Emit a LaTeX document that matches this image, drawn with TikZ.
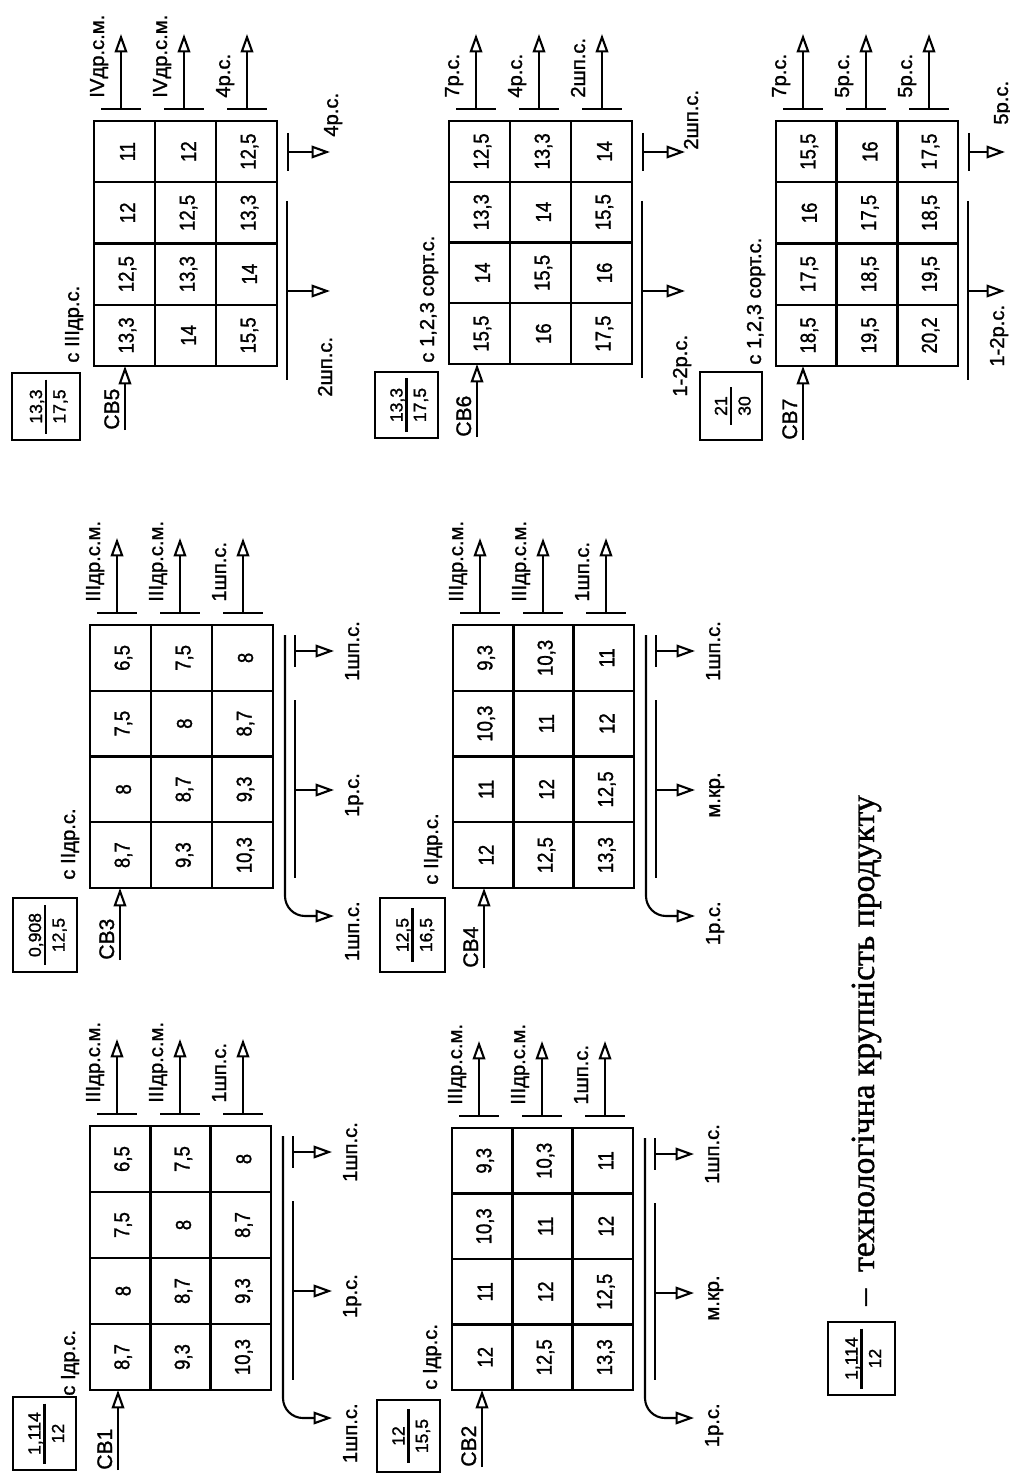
\documentclass[tikz,border=0pt]{standalone}
\usepackage{fontspec}
\usepackage{graphicx}
\setmainfont{Liberation Sans}[FakeBold=1.3]
\newfontfamily\legendfont{Liberation Serif}[FakeBold=1.2]
\usetikzlibrary{arrows.meta}
\newcommand{\dc}{,}
\newcommand{\nar}[1]{\scalebox{0.86}[1]{#1}}
\tikzset{
  ln/.style={line width=1.2pt},
  gridln/.style={line width=1.4pt},
  boxln/.style={line width=1.2pt},
  oarr/.style={line width=1.2pt, -{Triangle[open, length=10.5pt, width=7.2pt]}},
  num/.style={rotate=90, inner sep=0pt, font=\fontsize{12.3}{13}\selectfont},
  lab/.style={rotate=90, inner sep=0pt, font=\fontsize{11.5}{13}\selectfont},
  cbl/.style={rotate=90, inner sep=0pt, font=\fontsize{12}{13}\selectfont},
  frc/.style={rotate=90, inner sep=0pt, font=\fontsize{10}{12}\selectfont},
}
\newcommand{\setblk}[4]{\def\bL{#1}\def\bT{#2}\def\bR{#3}\def\bB{#4}}
\newcommand{\cbgrid}[2]{%
  \draw[gridln] (\bL,\bT) rectangle (\bR,\bB);
  \foreach \t in {1,2}{\draw[gridln] ({\bL+(\bR-\bL)*\t/3},\bT) -- ({\bL+(\bR-\bL)*\t/3},\bB);}
  \foreach \t in {1,2,3}{\draw[gridln] (\bL,{\bT+(\bB-\bT)*\t/4}) -- (\bR,{\bT+(\bB-\bT)*\t/4});}
  \foreach \v [count=\k from 0] in {#2}{%
    \pgfmathsetmacro{\cx}{\bL+(\bR-\bL)*(mod(\k,3)+0.5)/3+3}%
    \pgfmathsetmacro{\cy}{\bT+(\bB-\bT)*(floor(\k/3)+0.5)/4}%
    \node[num] (#1-c\k) at (\cx,\cy) {\nar{\v}};
  }%
}
\newcommand{\topouts}[4]{%
  \foreach \j/\lab in {0/#2,1/#3,2/#4}{%
    \pgfmathsetmacro{\ax}{\bL+27+63*\j}%
    \coordinate (#1-b\j) at (\ax,{\bT-12});
    \coordinate (#1-t\j) at (\ax,{\bT-87});
    \draw[ln] ({\ax-20},{\bT-12}) -- ({\ax+20},{\bT-12});
    \draw[oarr] (#1-b\j) -- (#1-t\j);
    \node[lab, anchor=base west] (#1-l\j) at ({\ax-17},{\bT-23}) {\lab};
  }%
}
\newcommand{\rightA}[4]{%
  \coordinate (#1-ra) at ({\bR+12},{\bT+10});
  \coordinate (#1-rae) at ({\bR+61},{\bB+28});
  \draw[oarr, rounded corners=0.4cm] (#1-ra) |- (#1-rae);
  \draw[ln] ({\bR+22},{\bT+75}) -- ({\bR+22},{\bB-10});
  \coordinate (#1-rb) at ({\bR+22},{\bT+165});
  \coordinate (#1-rbe) at ({\bR+61},{\bT+165});
  \draw[oarr] (#1-rb) -- (#1-rbe);
  \draw[ln] ({\bR+22},{\bT+10}) -- ({\bR+22},{\bT+42});
  \coordinate (#1-rc) at ({\bR+22},{\bT+26});
  \coordinate (#1-rce) at ({\bR+61},{\bT+26});
  \draw[oarr] (#1-rc) -- (#1-rce);
  \node[lab, anchor=base] (#1-rl1) at ({\bR+86},{\bT+26}) {#2};
  \node[lab, anchor=base] (#1-rl2) at ({\bR+86},{\bT+170}) {#3};
  \node[lab, anchor=base east] (#1-rl3) at ({\bR+86},{\bB+13}) {#4};
}
\newcommand{\rightB}[2]{%
  \draw[ln] ({\bR+11},{\bT+12}) -- ({\bR+11},{\bT+50});
  \coordinate (#1-rc) at ({\bR+11},{\bT+31});
  \coordinate (#1-rce) at ({\bR+#2},{\bT+31});
  \draw[oarr] (#1-rc) -- (#1-rce);
  \draw[ln] ({\bR+10},{\bT+80}) -- ({\bR+10},{\bB+14});
  \coordinate (#1-rb) at ({\bR+10},{\bT+170});
  \coordinate (#1-rbe) at ({\bR+#2},{\bT+170});
  \draw[oarr] (#1-rb) -- (#1-rbe);
}
\newcommand{\inputarr}[4]{%
  \coordinate (#1-in) at (#2,#3);
  \coordinate (#1-inend) at (#2,\bB);
  \draw[oarr] (#1-in) -- (#1-inend);
  \node[cbl, anchor=base west] (#1-name) at ({#2-6},#3) {#4};
}
\newcommand{\fracbox}[8]{%
  \draw[boxln] (#2,#3) rectangle (#4,#5);
  \pgfmathsetmacro{\fx}{(#2+#4)/2}%
  \pgfmathsetmacro{\fy}{(#3+#5)/2}%
  \draw[ln] (\fx,{\fy-#8}) -- (\fx,{\fy+#8});
  \node[frc, anchor=base] (#1-num) at ({\fx-4},\fy) {#6};
  \node[frc, anchor=north] (#1-den) at ({\fx+7},\fy) {#7};
}
\begin{document}
\begin{tikzpicture}[x=0.02cm, y=-0.02cm]
\useasboundingbox (0,0) rectangle (1010,1473);
\fill[white] (0,0) rectangle (1010,1473);

% ---------- CB1
\setblk{90}{1126}{271}{1390}
\cbgrid{cb1}{6\dc5,7\dc5,8,7\dc5,8,8\dc7,8,8\dc7,9\dc3,8\dc7,9\dc3,10\dc3}
\topouts{cb1}{IIIдр.с.м.}{IIIдр.с.м.}{1шп.с.}
\rightA{cb1}{1шп.с.}{1р.с.}{1шп.с.}
\inputarr{cb1}{118}{1470}{СВ1}
\node[lab, anchor=base west] (cb1-src) at ({\bL-15},{\bB+6}) {с Iдр.с.};
\fracbox{cb1f}{13}{1397}{76}{1470}{1,114}{12}{30}

% ---------- CB3
\setblk{90}{625}{273}{888}
\cbgrid{cb3}{6\dc5,7\dc5,8,7\dc5,8,8\dc7,8,8\dc7,9\dc3,8\dc7,9\dc3,10\dc3}
\topouts{cb3}{IIIдр.с.м.}{IIIдр.с.м.}{1шп.с.}
\rightA{cb3}{1шп.с.}{1р.с.}{1шп.с.}
\inputarr{cb3}{120}{960}{СВ3}
\node[lab, anchor=base west] (cb3-src) at ({\bL-15},{\bB-8}) {с IIдр.с.};
\fracbox{cb3f}{13}{898}{77}{972}{0,908}{12,5}{30}

% ---------- CB2
\setblk{452}{1128}{633}{1390}
\cbgrid{cb2}{9\dc3,10\dc3,11,10\dc3,11,12,11,12,12\dc5,12,12\dc5,13\dc3}
\topouts{cb2}{IIIдр.с.м.}{IIIдр.с.м.}{1шп.с.}
\rightA{cb2}{1шп.с.}{м.кр.}{1р.с.}
\inputarr{cb2}{482}{1467}{СВ2}
\node[lab, anchor=base west] (cb2-src) at ({\bL-15},{\bB}) {с Iдр.с.};
\fracbox{cb2f}{377}{1400}{440}{1472}{12}{15,5}{27}

% ---------- CB4
\setblk{453}{625}{634}{888}
\cbgrid{cb4}{9\dc3,10\dc3,11,10\dc3,11,12,11,12,12\dc5,12,12\dc5,13\dc3}
\topouts{cb4}{IIIдр.с.м.}{IIIдр.с.м.}{1шп.с.}
\rightA{cb4}{1шп.с.}{м.кр.}{1р.с.}
\inputarr{cb4}{484}{968}{СВ4}
\node[lab, anchor=base west] (cb4-src) at ({\bL-15},{\bB-3}) {с IIдр.с.};
\fracbox{cb4f}{380}{898}{445}{972}{12,5}{16,5}{27}

% ---------- CB5
\setblk{94}{121}{277}{366}
\cbgrid{cb5}{11,12,12\dc5,12,12\dc5,13\dc3,12\dc5,13\dc3,14,13\dc3,14,15\dc5}
\topouts{cb5}{IVдр.с.м.}{IVдр.с.м.}{4р.с.}
\rightB{cb5}{53}
\node[lab, anchor=base west] (cb5-r1) at (338,137) {4р.с.};
\node[lab, anchor=base west] (cb5-r2) at (332,397) {2шп.с.};
\inputarr{cb5}{125}{430}{СВ5}
\node[lab, anchor=base west] (cb5-src) at ({\bL-15},{\bB-3}) {с IIIдр.с.};
\fracbox{cb5f}{12}{373}{80}{440}{13,3}{17,5}{27}

% ---------- CB6
\setblk{449}{121}{632}{364}
\cbgrid{cb6}{12\dc5,13\dc3,14,13\dc3,14,15\dc5,14,15\dc5,16,15\dc5,16,17\dc5}
\topouts{cb6}{7р.с.}{4р.с.}{2шп.с.}
\rightB{cb6}{53}
\node[lab, anchor=base west] (cb6-r1) at (698,150) {2шп.с.};
\node[lab, anchor=base west] (cb6-r2) at (687,397) {1-2р.с.};
\inputarr{cb6}{477}{437}{СВ6}
\node[lab, anchor=base west] (cb6-src) at ({\bL-15},{\bB-1}) {с 1,2,3 сорт.с.};
\fracbox{cb6f}{375}{372}{438}{438}{13,3}{17,5}{27}

% ---------- CB7
\setblk{776}{121}{958}{366}
\cbgrid{cb7}{15\dc5,16,17\dc5,16,17\dc5,18\dc5,17\dc5,18\dc5,19\dc5,18\dc5,19\dc5,20\dc2}
\topouts{cb7}{7р.с.}{5р.с.}{5р.с.}
\rightB{cb7}{47}
\node[lab, anchor=base west] (cb7-r1) at (1008,125) {5р.с.};
\node[lab, anchor=base west] (cb7-r2) at (1004,367) {1-2р.с.};
\inputarr{cb7}{803}{440}{СВ7}
\node[lab, anchor=base west] (cb7-src) at ({\bL-15},{\bB-1}) {с 1,2,3 сорт.с.};
\fracbox{cb7f}{700}{372}{762}{440}{21}{30}{19}

% ---------- legend
\fracbox{legf}{828}{1322}{895}{1395}{1,114}{12}{30}
\node[rotate=90, anchor=base west, inner sep=0pt, font=\legendfont\fontsize{19.2}{22}\selectfont] (leg) at (874,1306) {–\hspace{0.5em}технологічна крупність продукту};
\end{tikzpicture}
\end{document}
